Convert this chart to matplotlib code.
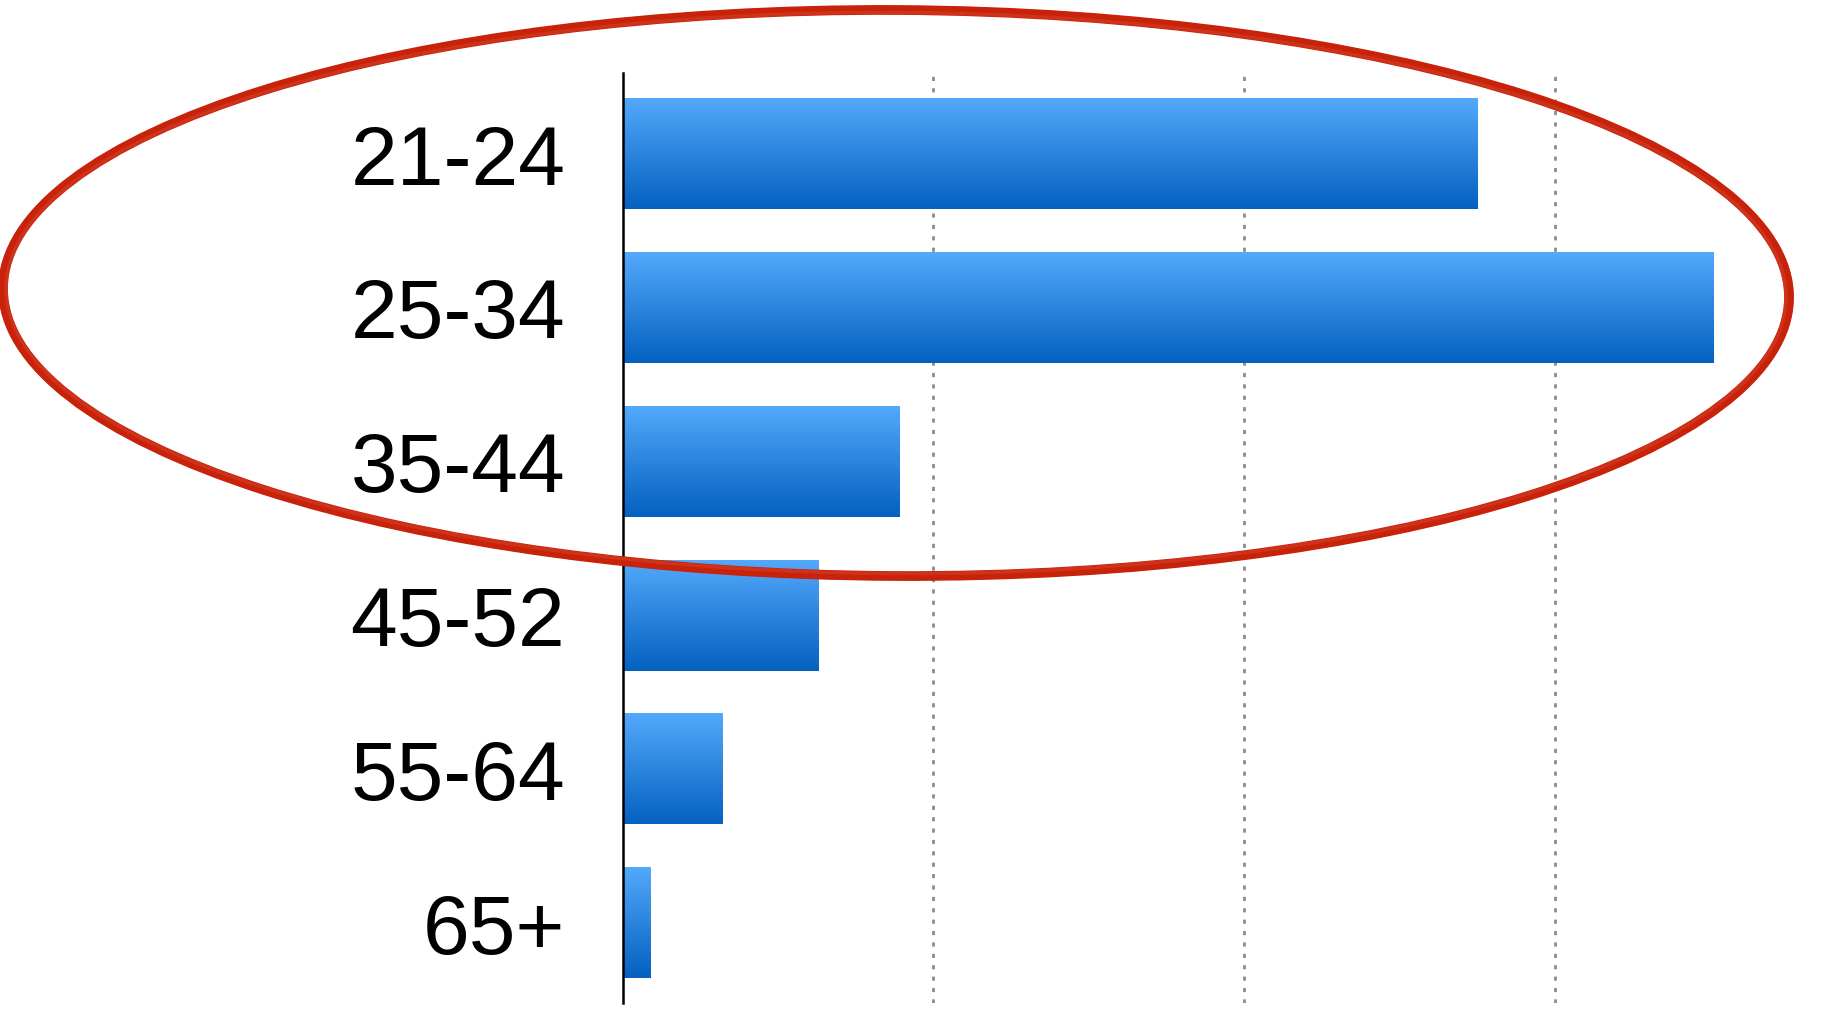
import matplotlib
matplotlib.use("Agg")
import matplotlib.pyplot as plt
from matplotlib.patches import Ellipse
from matplotlib.colors import LinearSegmentedColormap
from matplotlib.transforms import IdentityTransform
import numpy as np

plt.rcParams['font.family'] = ['Liberation Sans', 'DejaVu Sans']

# age groups and share (grid lines at 10/20/30)
ages = ["21-24", "25-34", "35-44", "45-52", "55-64", "65+"]
share = [27.5, 35.1, 8.9, 6.3, 3.2, 0.9]
grid_at = [10, 20, 30]

W, H = 1844, 1009
fig = plt.figure(figsize=(W / 100, H / 100), dpi=100)
ax = fig.add_axes([0.3378, 0.0059, 0.640, 0.9218])

bar_h = 0.716
pos = np.arange(len(ages))
bars = ax.barh(pos, share, height=bar_h, color="none", zorder=3)

# vertical gradient fill for each bar
grad = LinearSegmentedColormap.from_list("blue", ["#53a9fb", "#0461c0"])
g = np.linspace(0, 1, 256).reshape(-1, 1)
for b in bars:
    x0, y0 = b.get_x(), b.get_y()
    w, h = b.get_width(), b.get_height()
    ax.imshow(g, cmap=grad, aspect="auto", zorder=3,
              extent=(x0, x0 + w, y0 + h, y0))

ax.set_xlim(0, 38)
ax.set_ylim(5.52, -0.527)
ax.set_yticks(pos)
ax.set_yticklabels(ages, fontsize=60.5)
ax.set_xticks(grid_at)
ax.set_xticklabels([])
ax.tick_params(axis="both", length=0)
ax.tick_params(axis="y", pad=41.5)
ax.grid(axis="x", color="#8c8c8c", linewidth=2.0, linestyle=(0, (1.5, 2.6)), zorder=1)
ax.set_axisbelow(True)
for s in ["top", "right", "bottom"]:
    ax.spines[s].set_visible(False)
ax.spines["left"].set_linewidth(1.8)
ax.spines["left"].set_zorder(4)

# red hand-drawn ring around the first three groups (pixel coordinates)
cx, cy = 896, H - 293
for dw, dh, lw, col, al in [(0, 0, 7.0, "#c8220a", 1.0),
                            (6, 5, 2.5, "#c8220a", 0.8),
                            (-6, -5, 2.5, "#d23a22", 0.7)]:
    ring = Ellipse((cx, cy), 1786 + dw, 566 + dh, angle=-0.3,
                   transform=IdentityTransform(), fill=False,
                   edgecolor=col, linewidth=lw, alpha=al, zorder=10)
    fig.add_artist(ring)

fig.savefig("out.png", dpi=100, facecolor="white")
